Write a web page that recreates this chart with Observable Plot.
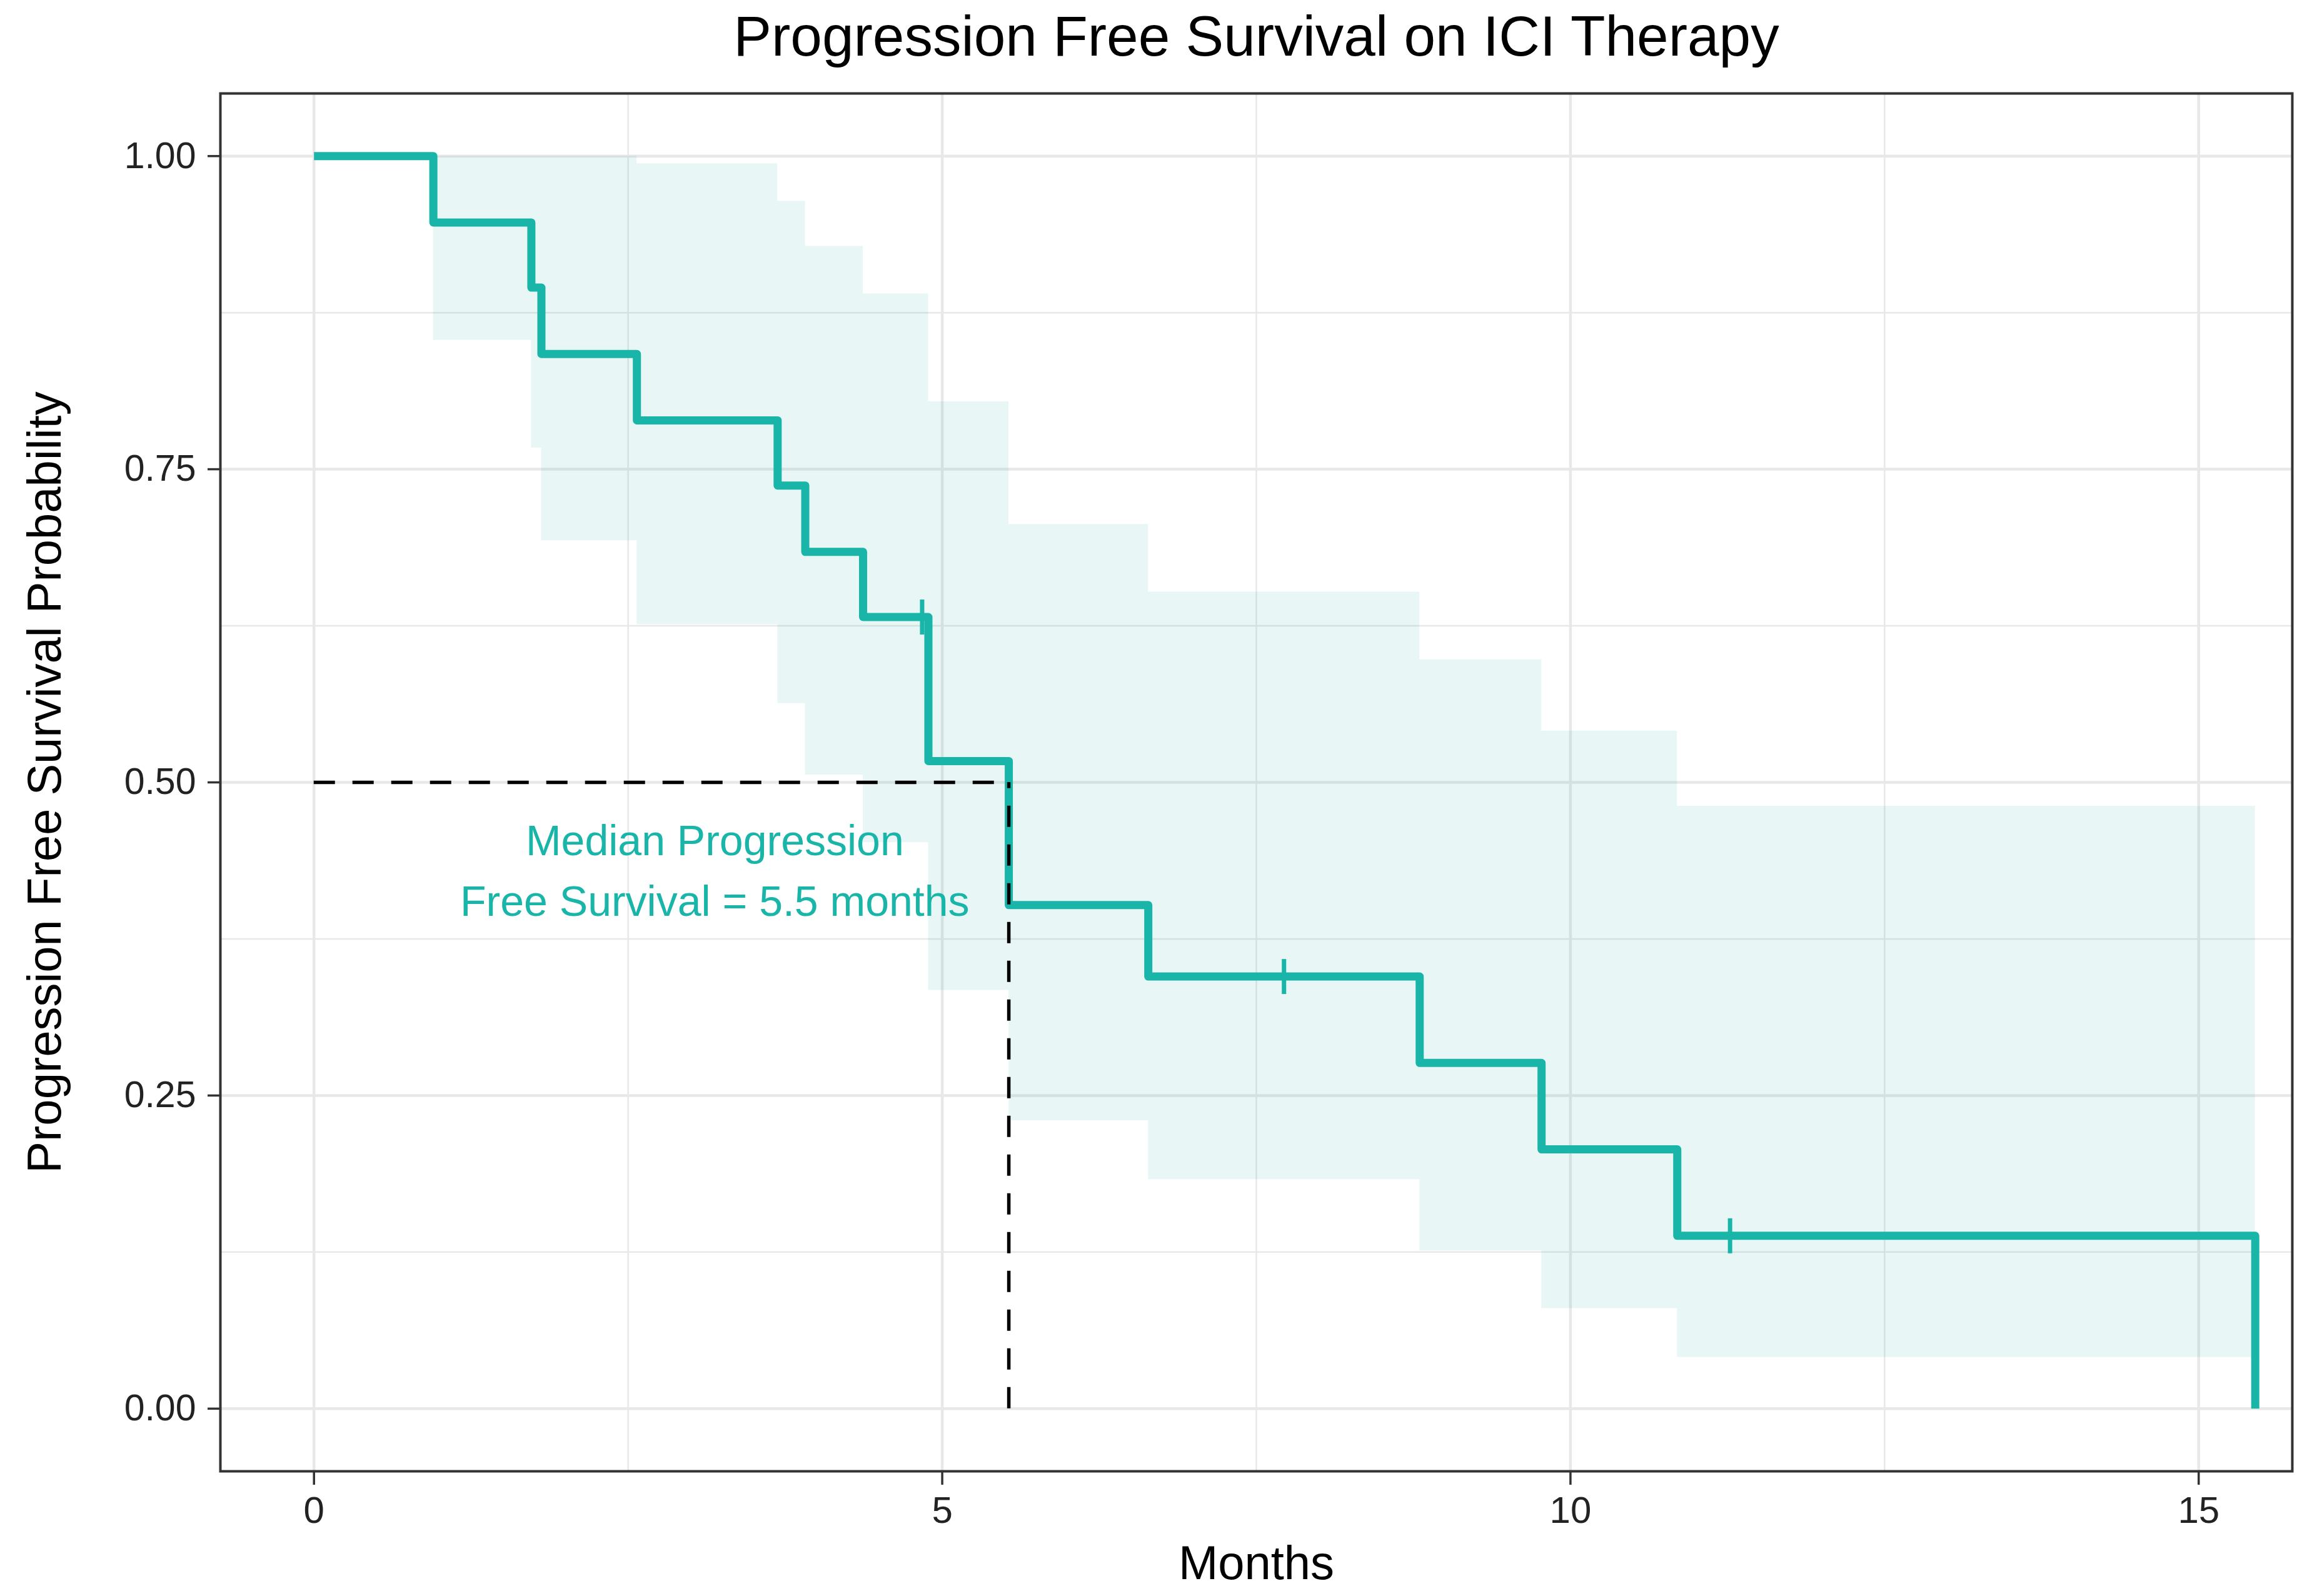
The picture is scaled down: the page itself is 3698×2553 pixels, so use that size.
<!DOCTYPE html>
<html>
<head>
<meta charset="utf-8">
<script src="https://cdn.jsdelivr.net/npm/d3@7"></script>
<script src="https://cdn.jsdelivr.net/npm/@observablehq/plot@0.6"></script>
<style>
  html, body { margin: 0; padding: 0; background: #fff; }
  #chart { width: 3698px; height: 2553px; overflow: hidden; }
</style>
</head>
<body>
<div id="chart"></div>
<script>
// ---- Data ----
const title = "Progression Free Survival on ICI Therapy";
const xLabel = "Months";
const yLabel = "Progression Free Survival Probability";

// Kaplan-Meier step curve (time in months, survival probability)
const stepTime = [0, 0.95, 1.73, 1.81, 2.57, 3.69, 3.91, 4.37, 4.89, 5.53, 6.64, 8.80, 9.77, 10.85, 15.45];
const stepSurv = [1.0, 0.947, 0.895, 0.842, 0.789, 0.737, 0.684, 0.632, 0.517, 0.402, 0.345, 0.276, 0.207, 0.138, 0.0];

// Confidence band (step-after)
const bandTime  = [0.95, 1.73, 1.81, 2.57, 3.69, 3.91, 4.37, 4.89, 5.53, 6.64, 8.80, 9.77, 10.85, 15.45];
const bandUpper = [1.0, 1.0, 1.0, 0.994, 0.964, 0.928, 0.890, 0.804, 0.706, 0.652, 0.598, 0.541, 0.481, 0.481];
const bandLower = [0.853, 0.767, 0.693, 0.626, 0.563, 0.506, 0.452, 0.334, 0.230, 0.183, 0.126, 0.080, 0.041, 0.041];

// Censoring marks
const censorTime = [4.84, 7.72, 11.27];
const censorSurv = [0.632, 0.345, 0.138];

// Median survival
const medianTime = 5.53;
const medianProb = 0.5;
const medianText = "Median Progression\nFree Survival = 5.5 months";
const medianTextX = 3.19;
const medianTextY = 0.433;

// Axis ticks
const xTicks = [0, 5, 10, 15];
const yTicks = [0, 0.25, 0.5, 0.75, 1.0];
const xMinor = [2.5, 7.5, 12.5];
const yMinor = [0.125, 0.375, 0.625, 0.875];

// ---- Build tables ----
const curve = stepTime.map((t, i) => ({t, s: stepSurv[i]}));
const band = bandTime.map((t, i) => ({t, lo: bandLower[i], hi: bandUpper[i]}));
const censor = censorTime.map((t, i) => ({t, s: censorSurv[i]}));

const teal = "#19b5a8";
const gridColor = "#e8e8e8";
const font = "'Liberation Sans', Arial, Helvetica, sans-serif";

const vbar = {
  draw(context, size) {
    const r = Math.sqrt(size / Math.PI);
    context.moveTo(0, -r);
    context.lineTo(0, r);
  }
};

const chart = Plot.plot({
  width: 3698,
  height: 2553,
  marginTop: 149,
  marginBottom: 200,
  marginLeft: 352,
  marginRight: 32,
  style: {fontFamily: font, background: "#fff"},
  x: {domain: [-0.745, 15.745]},
  y: {domain: [-0.05, 1.05]},
  marks: [
    // grid
    Plot.ruleX(xMinor, {stroke: gridColor, strokeWidth: 2.5}),
    Plot.ruleY(yMinor, {stroke: gridColor, strokeWidth: 2.5}),
    Plot.ruleX(xTicks, {stroke: gridColor, strokeWidth: 4.5}),
    Plot.ruleY(yTicks, {stroke: gridColor, strokeWidth: 4.5}),
    // confidence band
    Plot.areaY(band, {x: "t", y1: "lo", y2: "hi", curve: "step-after", fill: teal, fillOpacity: 0.1}),
    // KM curve
    Plot.line(curve, {x: "t", y: "s", curve: "step-after", stroke: teal, strokeWidth: 13, strokeLinejoin: "round", strokeLinecap: "butt"}),
    // censor marks
    Plot.dot(censor, {x: "t", y: "s", symbol: vbar, r: 28, stroke: teal, strokeWidth: 7, fill: "none"}),
    // median lines
    Plot.ruleY([medianProb], {x1: 0, x2: medianTime, stroke: "#000", strokeWidth: 5.5, strokeDasharray: "34,28"}),
    Plot.ruleX([medianTime], {y1: 0, y2: medianProb, stroke: "#000", strokeWidth: 5.5, strokeDasharray: "34,28"}),
    // annotation
    Plot.text([medianText], {x: medianTextX, y: medianTextY, fill: teal, fontSize: 68, lineHeight: 1.42, textAnchor: "middle", lineAnchor: "middle"}),
    // axes
    Plot.axisX({ticks: xTicks, tickSize: 22, tickPadding: 18, fontSize: 60, label: null, stroke: "#333", strokeWidth: 3.5, fill: "#222"}),
    Plot.axisY({ticks: yTicks, tickFormat: d3.format(".2f"), tickSize: 20, tickPadding: 19, fontSize: 59, label: null, stroke: "#333", strokeWidth: 3.5, fill: "#222"}),
    // axis titles and title
    Plot.text([xLabel], {frameAnchor: "bottom", dy: 148, fontSize: 76, fill: "#000", textAnchor: "middle", lineAnchor: "middle"}),
    Plot.text([yLabel], {frameAnchor: "left", dx: -280, rotate: -90, fontSize: 76, fill: "#000", textAnchor: "middle", lineAnchor: "middle"}),
    Plot.text([title], {frameAnchor: "top", dy: -90, fontSize: 91, fill: "#000", textAnchor: "middle", lineAnchor: "middle"}),
    // panel border
    Plot.frame({stroke: "#333", strokeWidth: 4})
  ]
});

document.getElementById("chart").appendChild(chart);
</script>
</body>
</html>
